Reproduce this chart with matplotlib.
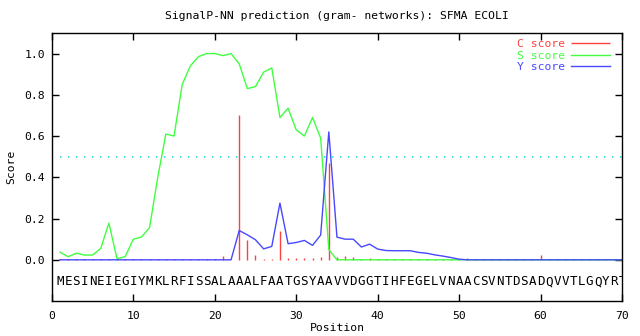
import matplotlib
matplotlib.use("Agg")
import matplotlib.pyplot as plt

# sekwencja SFMA_ECOLI, pozycje 1..70
sequence = "MESINEIEGIYMKLRFISSALAAALFAATGSYAAVVDGGTIHFEGELVNAACSVNTDSADQVVTLGQYRT"
positions = list(range(1, len(sequence) + 1))

c_score = [0.006, 0.006, 0.006, 0.006, 0.006, 0.006, 0.006, 0.006, 0.006, 0.006,
           0.006, 0.006, 0.006, 0.006, 0.006, 0.006, 0.006, 0.006, 0.006, 0.006,
           0.018, 0.0, 0.70, 0.097, 0.022, 0.006, 0.006, 0.142, 0.008, 0.008,
           0.008, 0.011, 0.013, 0.47, 0.016, 0.018, 0.016, 0.006, 0.010, 0.006,
           0.006, 0.006, 0.006, 0.006, 0.006, 0.006, 0.006, 0.006, 0.006, 0.006,
           0.011, 0.006, 0.006, 0.006, 0.006, 0.006, 0.006, 0.006, 0.006, 0.022,
           0.006, 0.006, 0.006, 0.006, 0.006, 0.006, 0.006, 0.006, 0.006, 0.006]

s_score = [0.037, 0.015, 0.032, 0.023, 0.023, 0.055, 0.178, 0.006, 0.015, 0.100,
           0.110, 0.157, 0.400, 0.610, 0.600, 0.850, 0.940, 0.985, 1.000, 1.000,
           0.990, 1.000, 0.950, 0.830, 0.840, 0.910, 0.930, 0.690, 0.735, 0.630,
           0.600, 0.690, 0.590, 0.050, 0.0, 0.0, 0.0, 0.0, 0.0, 0.0,
           0.0, 0.0, 0.0, 0.0, 0.0, 0.0, 0.0, 0.0, 0.0, 0.0,
           0.0, 0.0, 0.0, 0.0, 0.0, 0.0, 0.0, 0.0, 0.0, 0.0,
           0.0, 0.0, 0.0, 0.0, 0.0, 0.0, 0.0, 0.0, 0.0, 0.0]

y_score = [0.0, 0.0, 0.0, 0.0, 0.0, 0.0, 0.0, 0.0, 0.0, 0.0,
           0.0, 0.0, 0.0, 0.0, 0.0, 0.0, 0.0, 0.0, 0.0, 0.0,
           0.0, 0.0, 0.142, 0.121, 0.097, 0.053, 0.065, 0.275, 0.078, 0.084,
           0.094, 0.070, 0.120, 0.620, 0.110, 0.100, 0.100, 0.062, 0.076, 0.052,
           0.045, 0.044, 0.044, 0.044, 0.036, 0.032, 0.024, 0.018, 0.011, 0.003,
           0.0, 0.0, 0.0, 0.0, 0.0, 0.0, 0.0, 0.0, 0.0, 0.0,
           0.0, 0.0, 0.0, 0.0, 0.0, 0.0, 0.0, 0.0, 0.0, 0.0]

threshold = 0.5
x_ticks = [0, 10, 20, 30, 40, 50, 60, 70]
y_ticks = [0.0, 0.2, 0.4, 0.6, 0.8, 1.0]

plt.rcParams['font.family'] = ['DejaVu Sans Mono']
plt.rcParams['font.size'] = 8.2

fig = plt.figure(figsize=(6.4, 3.36), dpi=100)
ax = fig.add_axes([0.081, 0.104, 0.891, 0.798])

red = '#ff4040'
green = '#40ff40'
blue = '#4848ff'

ax.vlines(positions, 0, c_score, color=red, lw=1.0, label="C score")
ax.plot(positions, s_score, color=green, lw=1.0, label="S score")
ax.plot(positions, y_score, color=blue, lw=1.0, label="Y score")
ax.hlines(threshold, positions[0], positions[-1], color='#30d8d8', lw=1.2,
          linestyles=[(0, (0.9, 3.9))])

for p, letter in zip(positions, sequence):
    ax.text(p, -0.107, letter, ha='center', va='center', fontsize=9, clip_on=True)

ax.set_xlim(0, 70)
ax.set_ylim(-0.2, 1.1)
ax.set_xticks(x_ticks)
ax.set_yticks(y_ticks)
ax.set_yticklabels([f"{v:.1f}" for v in y_ticks])
ax.tick_params(direction='in', top=True, right=True, length=5, width=1)
ax.tick_params(axis='x', pad=7)
ax.tick_params(axis='y', pad=5)
for sp in ax.spines.values():
    sp.set_linewidth(1)

ax.set_title("SignalP-NN prediction (gram- networks): SFMA ECOLI", fontsize=8.2, pad=10)
ax.set_xlabel("Position", labelpad=1.5)
ax.set_ylabel("Score", labelpad=6)

leg = ax.legend(loc='upper right', bbox_to_anchor=(0.979, 0.978), frameon=False,
                markerfirst=False, handlelength=3.4, labelspacing=0.15,
                borderaxespad=0, borderpad=0, handletextpad=0.55)
for txt, col in zip(leg.get_texts(), [red, green, blue]):
    txt.set_color(col)

fig.savefig("out.png", dpi=100)
